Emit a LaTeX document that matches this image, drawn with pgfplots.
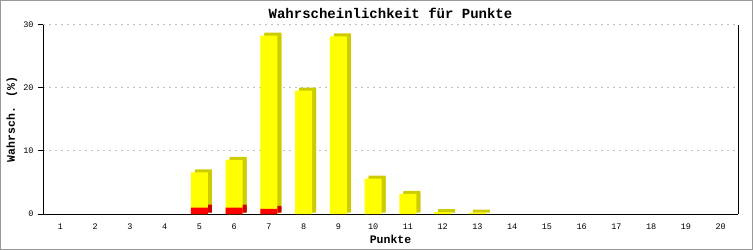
\documentclass[border=0pt]{standalone}
\usepackage{pgfplots}
\pgfplotsset{compat=1.18}
\usepackage{fontspec}
\setmainfont{Liberation Mono}
\definecolor{yel}{RGB}{255,255,0}
\definecolor{dyel}{RGB}{204,204,0}
\definecolor{rd}{RGB}{255,0,0}
\definecolor{drd}{RGB}{204,0,0}
\definecolor{grd}{RGB}{192,192,192}
\definecolor{brd}{RGB}{153,153,153}
\begin{document}
\begin{tikzpicture}
\draw[brd, line width=1bp] (0.5bp,0.5bp) rectangle (752.5bp,249.5bp);
\begin{axis}[
  at={(43bp,36bp)}, anchor=south west,
  scale only axis, width=695bp, height=189bp,
  xmin=0.5, xmax=20.5, ymin=0, ymax=30,
  axis x line*=bottom, axis y line*=box,
  axis line style={black, line width=1bp},
  xtick={1,...,20}, ytick={0,10,20,30},
  ytick pos=left,
  x tick style={draw=none},
  y tick style={black, line width=1bp},
  tick align=outside, major tick length=5bp,
  ymajorgrids, grid style={grd, line width=1bp, dash pattern=on 2bp off 4bp},
  /pgf/number format/assume math mode=true,
  tick label style={font=\fontsize{8.5bp}{10bp}\selectfont},
  xticklabel style={anchor=center, yshift=-8bp},
  yticklabel style={anchor=east, xshift=-1bp},
  title={\textbf{Wahrscheinlichkeit für Punkte}},
  title style={font=\fontsize{14bp}{16bp}\selectfont, at={(axis description cs:0.5,1.032)}, anchor=center},
  xlabel={\textbf{Punkte}}, ylabel={\textbf{Wahrsch. (\%)}},
  every axis x label/.style={at={(axis description cs:0.5,-0.132)}, anchor=center, font=\fontsize{11.5bp}{13bp}\selectfont},
  every axis y label/.style={at={(axis description cs:-0.0446,0.5)}, rotate=90, anchor=center, font=\fontsize{11.5bp}{13bp}\selectfont},
  ybar, bar width=17bp,
  clip=false,
]
% back (side/top) faces
\addplot[fill=dyel, draw=none, bar shift=4bp, yshift=3bp] coordinates {
 (5,6.6) (6,8.6) (7,28.3) (8,19.6) (9,28.2) (10,5.6) (11,3.2) (12,0.3) (13,0.2)};
\addplot[fill=dyel, draw=none, bar shift=4bp, yshift=1.5bp] coordinates {
 (5,6.6) (6,8.6) (7,28.3) (8,19.6) (9,28.2) (10,5.6) (11,3.2) (12,0.3) (13,0.2)};
\addplot[fill=drd, draw=none, bar shift=4bp, yshift=3bp] coordinates {
 (5,1.0) (6,1.0) (7,0.8)};
\addplot[fill=drd, draw=none, bar shift=4bp, yshift=1.5bp] coordinates {
 (5,1.0) (6,1.0) (7,0.8)};
% front faces
\addplot[fill=yel, draw=none, bar shift=0bp] coordinates {
 (5,6.6) (6,8.6) (7,28.3) (8,19.6) (9,28.2) (10,5.6) (11,3.2) (12,0.3) (13,0.2)};
\addplot[fill=rd, draw=none, bar shift=0bp] coordinates {
 (5,1.0) (6,1.0) (7,0.8)};
\end{axis}
\end{tikzpicture}
\end{document}
